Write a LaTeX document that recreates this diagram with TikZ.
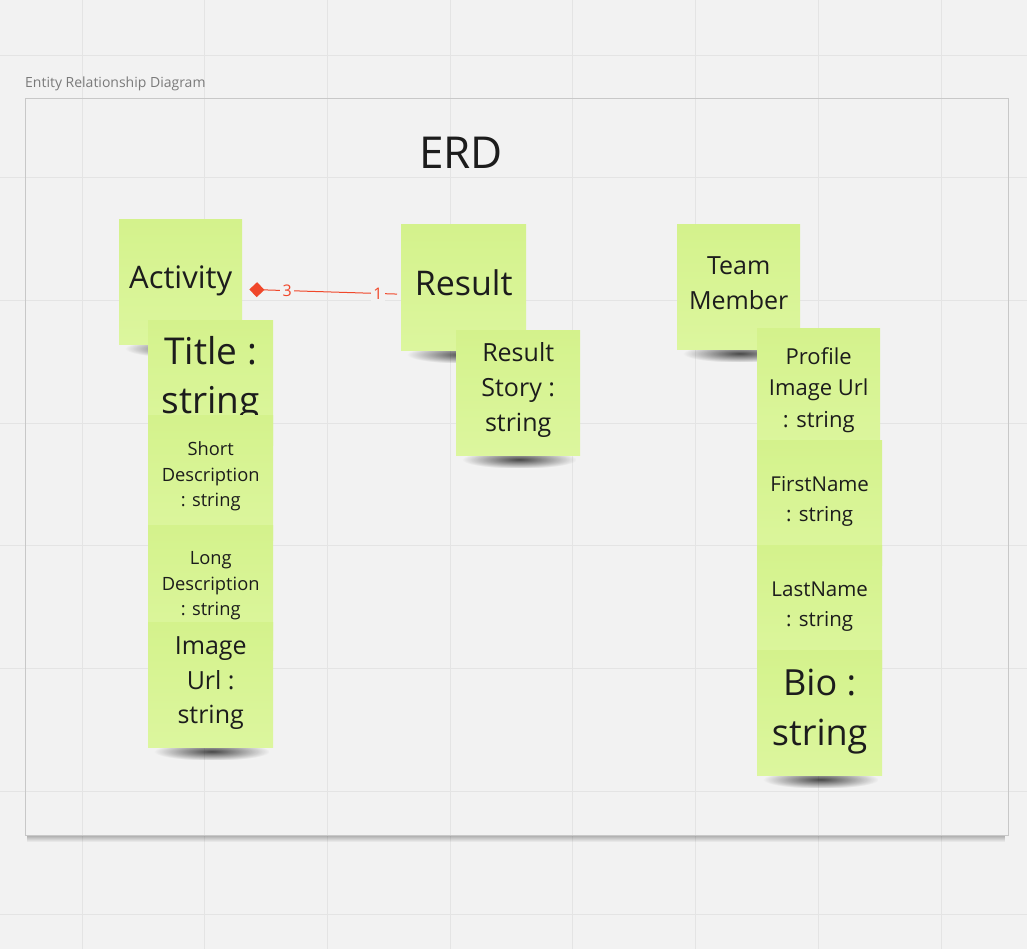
\documentclass[tikz,border=0pt]{standalone}
\usepackage{fontspec}
\setmainfont{Open Sans}
\usetikzlibrary{arrows.meta,fadings,calc}
\definecolor{bg}{HTML}{F2F2F2}
\definecolor{gridc}{HTML}{E4E4E4}
\definecolor{notetop}{HTML}{D4F28C}
\definecolor{notebot}{HTML}{DCF69E}
\definecolor{ink}{HTML}{1C1C1C}
\definecolor{connc}{HTML}{F0472A}
\definecolor{framec}{HTML}{C8C8C8}
\definecolor{labelc}{HTML}{7A7A7A}
\tikzfading[name=softfade, inner color=transparent!0, outer color=transparent!100]
\pgfdeclarelayer{bglayer}
\pgfdeclarelayer{shadowlayer}
\pgfsetlayers{bglayer,shadowlayer,main}
\newcommand\fs[2]{\fontsize{#1}{#2}\selectfont}
\tikzset{
  note/.style={draw=none, top color=notetop, bottom color=notebot, anchor=north west,
    minimum width=124pt, minimum height=125pt, inner sep=0pt, align=center, text=ink},
  shadowbox/.style={fill=black, fill opacity=0.7, path fading=softfade},
  gridline/.style={draw=gridc, line width=0.8pt},
  connline/.style={draw=connc, line width=1pt},
  cardlab/.style={text=connc, font=\fs{16}{18}, fill=bg, inner sep=2.5pt},
  framebox/.style={draw=framec, line width=0.8pt, anchor=north west, minimum width=983pt, minimum height=737pt, inner sep=0pt}
}
\begin{document}
\begin{tikzpicture}[x=1pt,y=-1pt]
\useasboundingbox (0,0) rectangle (1027,949);
\begin{pgfonlayer}{bglayer}
\fill[bg] (0,0) rectangle (1027,949);
\foreach \i in {0,...,7} {
  \draw[gridline] ({82+122.7*\i},0) -- ({82+122.7*\i},949);
  \draw[gridline] (0,{55+122.7*\i}) -- (1027,{55+122.7*\i});
}
\fill[black, fill opacity=0.3, path fading=south] (27,835) rectangle (1006,842);
\end{pgfonlayer}
\node[framebox] (frame) at (25,98) {};
\node[anchor=base west, inner sep=0pt, text=labelc, font=\fs{14}{16}] (framelabel) at (25,88) {Entity Relationship Diagram};
\node[text=ink, font=\fs{44}{50}] (erd) at (461,153) {ERD};

\node[note, minimum width=123pt, font=\fs{31}{40}, text depth=10pt] (activity) at (119,219) {Activity};
\node[note, minimum width=125pt, font=\fs{37}{49}, text depth=15pt] (title) at (148,320) {Title :\\string};
\node[note, minimum width=125pt, font=\fs{18.3}{25.5}, text depth=7pt] (short) at (148,415) {Short\\Description\\: string};
\node[note, minimum width=125pt, font=\fs{18.3}{25.5}, text depth=8pt] (long) at (148,525) {Long\\Description\\: string};
\node[note, minimum width=125pt, font=\fs{25}{34.5}, text depth=9pt] (image) at (148,622) {Image\\Url :\\string};

\node[note, minimum width=125pt, minimum height=126pt, font=\fs{34}{40}, text depth=10pt] (result) at (401,224) {Result};
\node[note, minimum width=124pt, font=\fs{25}{35}, text depth=11pt] (story) at (456,330) {Result\\Story :\\string};

\node[note, minimum width=123pt, font=\fs{25}{35}, text depth=8pt] (team) at (677,224) {Team\\Member};
\node[note, minimum width=123pt, font=\fs{22}{31.5}, text depth=7pt] (profile) at (757,328) {Profile\\Image Url\\: string};
\node[note, minimum width=125pt, font=\fs{20.5}{30}, text depth=7pt] (first) at (757,440) {FirstName\\: string};
\node[note, minimum width=125pt, font=\fs{20.5}{30}, text depth=7pt] (last) at (757,545) {LastName\\: string};
\node[note, minimum width=125pt, font=\fs{36}{50}, text depth=10pt] (bio) at (757,650) {Bio :\\string};

\begin{pgfonlayer}{shadowlayer}
\foreach \n in {activity,title,short,long,image,result,story,team,profile,first,last,bio}
  \fill[shadowbox] ([xshift=6pt,yshift=5pt]\n.south west) rectangle ([xshift=-4pt,yshift=-13pt]\n.south east);
\end{pgfonlayer}

\draw[connline, {Diamond[length=15pt,width=15pt]}-, shorten <=7pt, shorten >=4pt]
  ([yshift=-7.5pt]activity.east) -- node[cardlab, pos=0.283] {3} node[cardlab, pos=0.855] {1} ([yshift=-7pt]result.west);
\end{tikzpicture}
\end{document}
